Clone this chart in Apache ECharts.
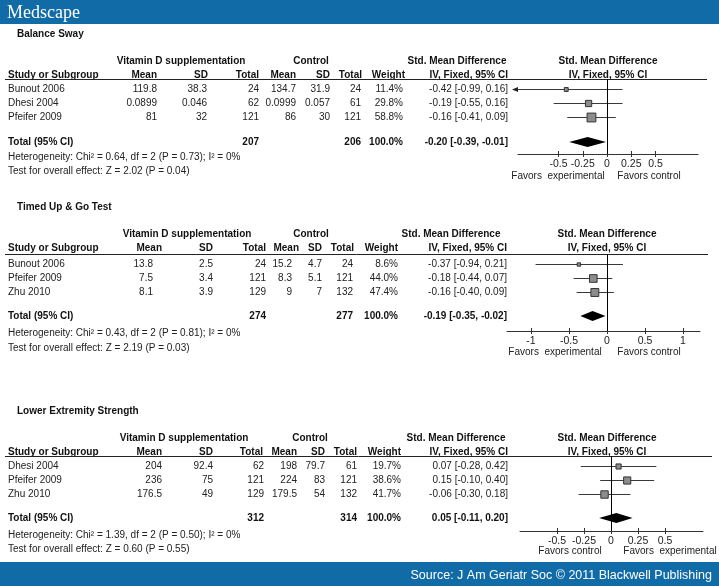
<!DOCTYPE html>
<html><head><meta charset="utf-8">
<script src="https://cdn.jsdelivr.net/npm/echarts@6/dist/echarts.min.js"></script>
<style>html,body{margin:0;padding:0;background:#fff}#c{width:719px;height:586px}</style>
</head><body><div id="c"></div>
<script>
// ================= DATA =================
const panelTitles = ['Balance Sway', 'Timed Up & Go Test', 'Lower Extremity Strength'];

// Balance Sway
const bsStudies = ['Bunout 2006', 'Dhesi 2004', 'Pfeifer 2009'];
const bsExpMean = [119.8, 0.0899, 81];
const bsExpSD = [38.3, 0.046, 32];
const bsExpN = [24, 62, 121];
const bsCtlMean = [134.7, 0.0999, 86];
const bsCtlSD = [31.9, 0.057, 30];
const bsCtlN = [24, 61, 121];
const bsWeight = [11.4, 29.8, 58.8];
const bsSMD = [-0.42, -0.19, -0.16];
const bsLow = [-0.99, -0.55, -0.41];
const bsHigh = [0.16, 0.16, 0.09];
const bsTotalN = [207, 206];
const bsTotalSMD = [-0.20, -0.39, -0.01];
const bsHet = 'Heterogeneity: Chi² = 0.64, df = 2 (P = 0.73); I² = 0%';
const bsTest = 'Test for overall effect: Z = 2.02 (P = 0.04)';
const bsTicks = [-0.5, -0.25, 0, 0.25, 0.5];
const bsFavors = ['Favors  experimental', 'Favors control'];

// Timed Up & Go Test
const tugStudies = ['Bunout 2006', 'Pfeifer 2009', 'Zhu 2010'];
const tugExpMean = [13.8, 7.5, 8.1];
const tugExpSD = [2.5, 3.4, 3.9];
const tugExpN = [24, 121, 129];
const tugCtlMean = [15.2, 8.3, 9];
const tugCtlSD = [4.7, 5.1, 7];
const tugCtlN = [24, 121, 132];
const tugWeight = [8.6, 44.0, 47.4];
const tugSMD = [-0.37, -0.18, -0.16];
const tugLow = [-0.94, -0.44, -0.40];
const tugHigh = [0.21, 0.07, 0.09];
const tugTotalN = [274, 277];
const tugTotalSMD = [-0.19, -0.35, -0.02];
const tugHet = 'Heterogeneity: Chi² = 0.43, df = 2 (P = 0.81); I² = 0%';
const tugTest = 'Test for overall effect: Z = 2.19 (P = 0.03)';
const tugTicks = [-1, -0.5, 0, 0.5, 1];
const tugFavors = ['Favors  experimental', 'Favors control'];

// Lower Extremity Strength
const lesStudies = ['Dhesi 2004', 'Pfeifer 2009', 'Zhu 2010'];
const lesExpMean = [204, 236, 176.5];
const lesExpSD = [92.4, 75, 49];
const lesExpN = [62, 121, 129];
const lesCtlMean = [198, 224, 179.5];
const lesCtlSD = [79.7, 83, 54];
const lesCtlN = [61, 121, 132];
const lesWeight = [19.7, 38.6, 41.7];
const lesSMD = [0.07, 0.15, -0.06];
const lesLow = [-0.28, -0.10, -0.30];
const lesHigh = [0.42, 0.40, 0.18];
const lesTotalN = [312, 314];
const lesTotalSMD = [0.05, -0.11, 0.20];
const lesHet = 'Heterogeneity: Chi² = 1.39, df = 2 (P = 0.50); I² = 0%';
const lesTest = 'Test for overall effect: Z = 0.60 (P = 0.55)';
const lesTicks = [-0.5, -0.25, 0, 0.25, 0.5];
const lesFavors = ['Favors control', 'Favors  experimental'];

const sourceText = 'Source: J Am Geriatr Soc © 2011 Blackwell Publishing';

// ================= LAYOUT =================
const FONT = '"Liberation Sans", Arial, sans-serif';
const ROW = 14;
const layouts = [
  { titleY:34, groupY:61, headY:75, lineY:79, row0:89, totalY:142, hetY:157, testY:171,
    axisY:154, favY:176, xLeft:518, xRight:698, zero:607, ppu:97, lineRight:707,
    head:{mean:157, sd:208, n:259, cmean:296, csd:330, cn:362, w:405, ci:508},
    val:{mean:157, sd:207, n:259, cmean:296, csd:330, cn:361, w:403, ci:508},
    grpExp:181, grpCtl:311, smdHead:457, plotHead:608, fav:[558,649] },
  { titleY:207, groupY:234, headY:248, lineY:254, row0:264, totalY:316, hetY:333, testY:348,
    axisY:331, favY:352, xLeft:507, xRight:700, zero:607, ppu:76, lineRight:708,
    head:{mean:162, sd:213, n:266, cmean:299, csd:322, cn:354, w:398, ci:507},
    val:{mean:153, sd:213, n:266, cmean:292, csd:322, cn:353, w:398, ci:507},
    grpExp:187, grpCtl:311, smdHead:451, plotHead:607, fav:[555,649] },
  { titleY:411, groupY:438, headY:452, lineY:456, row0:466, totalY:518, hetY:535, testY:549,
    axisY:531, favY:551, xLeft:520, xRight:703, zero:611, ppu:108, lineRight:712,
    head:{mean:162, sd:213, n:263, cmean:297, csd:325, cn:357, w:401, ci:508},
    val:{mean:162, sd:213, n:264, cmean:297, csd:325, cn:357, w:401, ci:508},
    grpExp:184, grpCtl:310, smdHead:456, plotHead:607, fav:[570,670] }
];

const panels = [
  {studies:bsStudies, em:bsExpMean, es:bsExpSD, en:bsExpN, cm:bsCtlMean, cs:bsCtlSD, cn:bsCtlN,
   w:bsWeight, smd:bsSMD, lo:bsLow, hi:bsHigh, tn:bsTotalN, tsmd:bsTotalSMD, het:bsHet, test:bsTest, ticks:bsTicks, fav:bsFavors},
  {studies:tugStudies, em:tugExpMean, es:tugExpSD, en:tugExpN, cm:tugCtlMean, cs:tugCtlSD, cn:tugCtlN,
   w:tugWeight, smd:tugSMD, lo:tugLow, hi:tugHigh, tn:tugTotalN, tsmd:tugTotalSMD, het:tugHet, test:tugTest, ticks:tugTicks, fav:tugFavors},
  {studies:lesStudies, em:lesExpMean, es:lesExpSD, en:lesExpN, cm:lesCtlMean, cs:lesCtlSD, cn:lesCtlN,
   w:lesWeight, smd:lesSMD, lo:lesLow, hi:lesHigh, tn:lesTotalN, tsmd:lesTotalSMD, het:lesHet, test:lesTest, ticks:lesTicks, fav:lesFavors}
];

const f2 = v => v.toFixed(2);
const ciText = (e, l, h) => f2(e) + ' [' + f2(l) + ', ' + f2(h) + ']';

const graphics = [];
function txt(x, y, s, align, bold, size, color) {
  graphics.push({type:'text', x, y, silent:true, style:{text:String(s), x:0, y:0,
    textAlign:align || 'left', textVerticalAlign:'middle',
    font:(bold ? 'bold ' : '') + (size || 10) + 'px ' + FONT, fill: color || (bold ? '#111' : '#222')}});
}

// header & footer bars
graphics.push({type:'rect', shape:{x:0, y:0, width:719, height:24}, style:{fill:'#116ba7'}, silent:true});
graphics.push({type:'rect', shape:{x:0, y:562, width:719, height:24}, style:{fill:'#116ba7'}, silent:true});
graphics.push({type:'text', x:7, y:13, silent:true, style:{text:'Medscape', textVerticalAlign:'middle',
  font:'18px "Liberation Serif", "DejaVu Serif", serif', fill:'#fff'}});
txt(712, 576, sourceText, 'right', false, 12.5, '#fff');

const grids = [], xAxes = [], yAxes = [], series = [];

panels.forEach((p, k) => {
  const L = layouts[k];
  const n = p.studies.length;
  const totalRow = (L.totalY - L.row0) / ROW;

  // titles and table text
  txt(17, L.titleY, panelTitles[k], 'left', true);
  txt(L.grpExp, L.groupY, 'Vitamin D supplementation', 'center', true);
  txt(L.grpCtl, L.groupY, 'Control', 'center', true);
  txt(L.smdHead, L.groupY, 'Std. Mean Difference', 'center', true);
  txt(L.plotHead, L.groupY, 'Std. Mean Difference', 'center', true);
  txt(8, L.headY, 'Study or Subgroup', 'left', true);
  txt(L.head.mean, L.headY, 'Mean', 'right', true);
  txt(L.head.sd, L.headY, 'SD', 'right', true);
  txt(L.head.n, L.headY, 'Total', 'right', true);
  txt(L.head.cmean, L.headY, 'Mean', 'right', true);
  txt(L.head.csd, L.headY, 'SD', 'right', true);
  txt(L.head.cn, L.headY, 'Total', 'right', true);
  txt(L.head.w, L.headY, 'Weight', 'right', true);
  txt(L.head.ci, L.headY, 'IV, Fixed, 95% CI', 'right', true);
  txt(L.plotHead, L.headY, 'IV, Fixed, 95% CI', 'center', true);
  graphics.push({type:'line', silent:true, shape:{x1:5, y1:L.lineY + 0.5, x2:L.lineRight, y2:L.lineY + 0.5},
    style:{stroke:'#222', lineWidth:1}});

  for (let i = 0; i < n; i++) {
    const y = L.row0 + i * ROW;
    txt(8, y, p.studies[i], 'left');
    txt(L.val.mean, y, p.em[i], 'right');
    txt(L.val.sd, y, p.es[i], 'right');
    txt(L.val.n, y, p.en[i], 'right');
    txt(L.val.cmean, y, p.cm[i], 'right');
    txt(L.val.csd, y, p.cs[i], 'right');
    txt(L.val.cn, y, p.cn[i], 'right');
    txt(L.val.w, y, p.w[i].toFixed(1) + '%', 'right');
    txt(L.val.ci, y, ciText(p.smd[i], p.lo[i], p.hi[i]), 'right');
  }
  const totW = p.w.reduce((a, b) => a + b, 0);
  txt(8, L.totalY, 'Total (95% CI)', 'left', true);
  txt(L.val.n, L.totalY, p.tn[0], 'right', true);
  txt(L.val.cn, L.totalY, p.tn[1], 'right', true);
  txt(L.val.w, L.totalY, totW.toFixed(1) + '%', 'right', true);
  txt(L.val.ci, L.totalY, ciText(p.tsmd[0], p.tsmd[1], p.tsmd[2]), 'right', true);
  txt(8, L.hetY, p.het, 'left');
  txt(8, L.testY, p.test, 'left');
  txt(L.fav[0], L.favY, p.fav[0], 'center');
  txt(L.fav[1], L.favY, p.fav[1], 'center');

  // plot grid
  grids.push({left:L.xLeft, top:L.lineY, width:L.xRight - L.xLeft, height:L.axisY - L.lineY, containLabel:false});
  const xmin = (L.xLeft - L.zero) / L.ppu, xmax = (L.xRight - L.zero) / L.ppu;
  xAxes.push({gridIndex:k, type:'value', min:xmin, max:xmax, position:'bottom',
    axisLine:{onZero:false, lineStyle:{color:'#333', width:1}},
    axisTick:{customValues:p.ticks, length:3, lineStyle:{color:'#333'}},
    axisLabel:{customValues:p.ticks, margin:5, fontSize:10.5, color:'#222', fontFamily:FONT},
    splitLine:{show:false}});
  xAxes.push({gridIndex:k, type:'value', min:xmin, max:xmax, position:'bottom',
    axisLine:{show:false, onZero:false},
    axisTick:{customValues:p.ticks, inside:true, length:3, lineStyle:{color:'#333'}},
    axisLabel:{show:false}, splitLine:{show:false}});
  yAxes.push({gridIndex:k, type:'value', inverse:true, show:false,
    axisLine:{onZero:false},
    min:(L.lineY - L.row0) / ROW, max:(L.axisY - L.row0) / ROW});

  const studyData = p.studies.map((s, i) => [p.smd[i], p.lo[i], p.hi[i], p.w[i], i]);
  series.push({
    type:'custom', xAxisIndex:2 * k, yAxisIndex:k, silent:true,
    data:studyData, encode:{x:[0, 1, 2], y:4},
    renderItem(params, api) {
      const cs = params.coordSys;
      const row = api.value(4);
      const pl = api.coord([api.value(1), row]);
      const ph = api.coord([api.value(2), row]);
      const pe = api.coord([api.value(0), row]);
      const left = cs.x, right = cs.x + cs.width;
      const y = Math.round(pe[1]) + 0.5;
      const x1 = Math.max(pl[0], left), x2 = Math.min(ph[0], right);
      const s = Math.max(3, 1.15 * Math.sqrt(api.value(3)));
      const ch = [
        {type:'line', shape:{x1, y1:y, x2, y2:y}, style:{stroke:'#3a3a3a', lineWidth:1}},
        {type:'rect', shape:{x:pe[0] - s / 2, y:y - s / 2, width:s, height:s},
          style:{fill:'#8c8c8c', stroke:'#333', lineWidth:1}}
      ];
      if (pl[0] < left) ch.push({type:'polygon', shape:{points:[[left - 6, y], [left, y - 2.5], [left, y + 2.5]]}, style:{fill:'#222'}});
      if (ph[0] > right) ch.push({type:'polygon', shape:{points:[[right + 6, y], [right, y - 2.5], [right, y + 2.5]]}, style:{fill:'#222'}});
      return {type:'group', children:ch};
    },
    markLine:{silent:true, symbol:'none', label:{show:false}, animation:false,
      lineStyle:{color:'#000', width:1, type:'solid'}, data:[{xAxis:0}]}
  });
  series.push({
    type:'custom', xAxisIndex:2 * k, yAxisIndex:k, silent:true,
    data:[[p.tsmd[0], p.tsmd[1], p.tsmd[2], totalRow]], encode:{x:[0, 1, 2], y:3},
    renderItem(params, api) {
      const row = api.value(3);
      const pe = api.coord([api.value(0), row]);
      const pl = api.coord([api.value(1), row]);
      const ph = api.coord([api.value(2), row]);
      const h = 5;
      return {type:'polygon', shape:{points:[[pl[0], pe[1]], [pe[0], pe[1] - h], [ph[0], pe[1]], [pe[0], pe[1] + h]]},
        style:{fill:'#000'}};
    }
  });
});

const chart = echarts.init(document.getElementById('c'), null, {renderer:'canvas'});
chart.setOption({
  animation:false,
  backgroundColor:'#fff',
  grid:grids, xAxis:xAxes, yAxis:yAxes, series:series,
  graphic:{elements:graphics}
});
</script></body></html>
